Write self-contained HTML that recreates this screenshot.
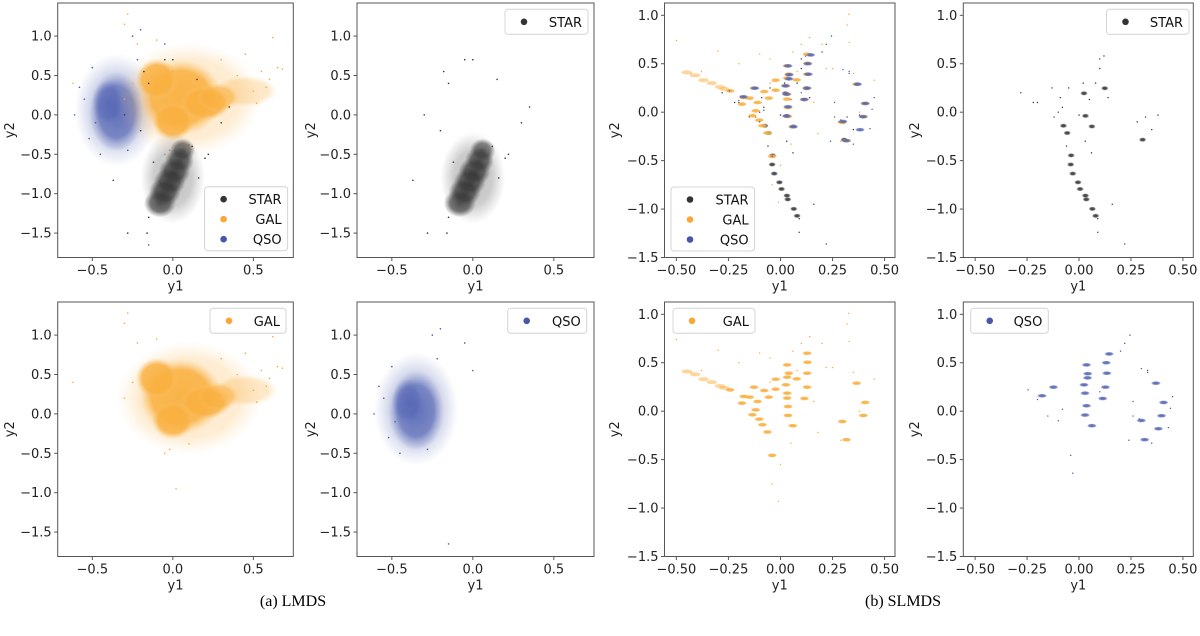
<!DOCTYPE html>
<html><head><meta charset="utf-8">
<style>
html,body{margin:0;padding:0;background:#fff;}
svg{display:block;font-family:"DejaVu Sans","Liberation Sans",sans-serif;}
.cap{font-family:"Liberation Serif",serif;font-size:16px;}
</style></head>
<body>
<svg id="fig" width="1200" height="636" viewBox="0 0 1200 636" xmlns="http://www.w3.org/2000/svg">
<defs>
<radialGradient id="g-gal"><stop offset="0" stop-color="#f9b040" stop-opacity="1"/><stop offset="0.7" stop-color="#f9b040" stop-opacity="0.92"/><stop offset="1" stop-color="#fbc470" stop-opacity="0"/></radialGradient>
<radialGradient id="g-qso"><stop offset="0" stop-color="#4e5eb0" stop-opacity="1"/><stop offset="0.65" stop-color="#5868b5" stop-opacity="0.85"/><stop offset="1" stop-color="#7080c0" stop-opacity="0"/></radialGradient>
<radialGradient id="g-star"><stop offset="0" stop-color="#2e2e2e" stop-opacity="1"/><stop offset="0.6" stop-color="#3a3a3a" stop-opacity="0.85"/><stop offset="1" stop-color="#555" stop-opacity="0"/></radialGradient>
</defs>
<text class="cap" x="293" y="606" text-anchor="middle">(a) LMDS</text>
<text class="cap" x="903" y="606" text-anchor="middle">(b) SLMDS</text>
</svg>
<script>
// ---------- LMDS cloud data (data units: x, y, spreadX, spreadY, density) ----------
const lmdsGalX=[0.1,0.05,-0.1,0.2,0.0,0.45,0.28];
const lmdsGalY=[0.2,0.22,0.45,0.15,-0.08,0.3,0.22];
const lmdsGalSX=[0.45,0.26,0.13,0.16,0.13,0.2,0.13];
const lmdsGalSY=[0.72,0.48,0.26,0.22,0.24,0.2,0.18];
const lmdsGalA=[0.25,0.95,0.9,0.9,0.9,0.3,0.6];
const lmdsQsoX=[-0.35,-0.35,-0.4];
const lmdsQsoY=[0.06,0.04,0.15];
const lmdsQsoSX=[0.26,0.17,0.1];
const lmdsQsoSY=[0.72,0.5,0.3];
const lmdsQsoA=[0.3,0.85,0.6];
const lmdsStarX=[0,-0.08,-0.05,-0.02,0.01,0.04,0.06];
const lmdsStarY=[-0.8,-1.12,-0.98,-0.85,-0.72,-0.58,-0.45];
const lmdsStarSX=[0.2,0.1,0.1,0.1,0.1,0.09,0.08];
const lmdsStarSY=[0.58,0.18,0.18,0.18,0.18,0.17,0.15];
const lmdsStarA=[0.3,0.8,0.85,0.85,0.85,0.8,0.7];
// outlier points
const lmdsGalPtX=[0.55,0.6,0.65,0.62,-0.62,-0.28,0.45,0.5,-0.22,0.3,-0.1,-0.3,0.68,0.4,-0.05,0.02,-0.25,-0.3,0.58,0.52,-0.02,0.1];
const lmdsGalPtY=[0.55,0.45,0.6,0.98,0.4,1.28,0.77,0.3,0.9,0.7,0.95,1.15,0.58,0.5,-0.5,-0.95,0.4,0.2,0.35,0.15,-0.45,-0.38];
const lmdsQsoPtX=[-0.61,-0.55,-0.5,-0.2,-0.25,-0.15,-0.45,-0.05,0.0,-0.52,-0.28,-0.58,-0.22,-0.48];
const lmdsQsoPtY=[0.0,0.2,0.6,1.08,1.0,-1.65,-0.5,0.9,0.55,-0.3,-0.45,0.35,0.7,-0.1];
const lmdsStarPtX=[-0.37,-0.28,-0.16,0.35,-0.05,0.0,0.2,-0.3,0.15,-0.15,0.3,-0.2,-0.18,0.22,-0.15,0.12,-0.12,0.16];
const lmdsStarPtY=[-0.83,-1.5,-1.5,0.1,0.7,0.7,-0.55,0.0,0.45,0.4,-0.1,-0.2,0.55,-0.5,-1.3,-0.4,-0.6,-0.8];
// ---------- SLMDS cluster data ----------
const slGalX=[0.128,0.13,0.128,0.128,0.115,0.032,0.04,0.032,0.078,0.026,0.032,0.032,0.036,0.036,0.059,-0.023,-0.023,-0.056,-0.078,-0.127,-0.11,-0.119,-0.135,-0.102,-0.087,-0.063,-0.176,-0.148,-0.185,-0.242,0.366,0.407,0.398,0.297,0.317,-0.04];
const slGalY=[0.598,0.505,0.392,0.248,0.131,0.478,0.392,0.351,0.334,0.272,0.186,0.135,0.048,-0.044,-0.15,0.33,0.227,0.145,0.213,0.248,0.1,0.014,-0.037,-0.082,-0.14,-0.215,0.152,0.145,0.083,0.22,0.289,0.09,-0.044,-0.106,-0.294,-0.456];
const slGalStreakX=[-0.45,-0.41,-0.37,-0.33,-0.29,-0.27];
const slGalStreakY=[0.41,0.38,0.33,0.3,0.26,0.24];
const slGalPtX=[0.328,0.32,0.33,-0.5,-0.3,-0.1,0.2,0.45,0.25,0.14,0.1,-0.2,-0.05,0.06,0.22,0.29,0.05,0.35,0.38,0.0,-0.04,-0.01,0.16,-0.38,-0.43,0.18,0.08,-0.05];
const slGalPtY=[1.01,0.9,0.72,0.74,0.63,0.6,0.7,0.33,0.45,0.77,0.7,0.5,0.55,0.62,0.45,-0.3,-0.33,0.4,0.0,-0.55,-0.75,-0.93,0.1,0.42,0.4,-0.22,0.42,0.3];
const slQsoX=[0.145,0.131,0.134,0.127,0.114,0.036,0.042,0.041,0.024,0.029,0.036,0.029,0.062,-0.123,-0.178,0.37,0.407,0.397,0.3,0.382,0.316];
const slQsoY=[0.591,0.5,0.392,0.248,0.131,0.478,0.387,0.344,0.272,0.186,0.056,-0.04,-0.15,0.248,0.159,0.289,0.09,-0.047,-0.096,-0.181,-0.294];
const slQsoPtX=[-0.04,-0.03,0.245,-0.245,0.22,0.2,0.3,0.33,0.45,0.44,-0.1,-0.2,0.26,0.43,0.35,0.29,-0.08,-0.15,0.1,0.33,0.24,0.26];
const slQsoPtY=[-0.456,-0.64,0.785,0.22,0.7,0.62,0.44,0.42,0.15,0.03,-0.1,0.12,-0.05,-0.17,-0.33,-0.08,0.02,-0.05,0.2,0.4,-0.3,0.1];
const slStarX=[-0.057,-0.075,-0.038,-0.04,-0.03,-0.005,0.005,0.031,0.035,0.064,0.08,0.062,0.306,0.124,0.024,0.031];
const slStarY=[-0.215,-0.14,-0.446,-0.54,-0.634,-0.724,-0.793,-0.861,-0.9,-0.998,-1.07,-0.147,-0.284,0.247,0.195,-0.038];
const slStarPtX=[-0.28,-0.22,-0.2,-0.13,-0.09,-0.1,-0.05,0.02,0.05,0.1,0.12,0.14,0.09,0.16,0.22,0.1,0.28,0.32,0.38,0.35,-0.08,0.0,0.06,0.09,-0.12,-0.06,0.03,0.08];
const slStarPtY=[0.2,0.1,0.1,0.25,0.15,0.0,0.25,0.3,0.13,0.45,0.58,0.15,-1.24,-0.95,-1.36,0.55,-0.1,-0.05,-0.03,-0.18,0.05,-0.03,-0.42,-1.1,-0.05,-0.35,-0.3,0.3];
// ---------- tick labels ----------
const lmdsXTicks=[-0.5,0,0.5];
const lmdsXTickLabels=["\u22120.5","0.0","0.5"];
const yTicks=[1,0.5,0,-0.5,-1,-1.5];
const yTickLabels=["1.0","0.5","0.0","\u22120.5","\u22121.0","\u22121.5"];
const slXTicks=[-0.5,-0.25,0,0.25,0.5];
const slXTickLabels=["\u22120.50","\u22120.25","0.00","0.25","0.50"];

const NS="http://www.w3.org/2000/svg";
const svg=document.getElementById('fig');
const COL={gal:'#f9a836',qso:'#4656a8',star:'#333333'};
const LBL={gal:'GAL',qso:'QSO',star:'STAR'};
function mk(tag,attrs,parent){const e=document.createElementNS(NS,tag);for(const k in attrs)e.setAttribute(k,attrs[k]);(parent||svg).appendChild(e);return e;}

const LM={xr:[-0.715,0.748],yr:[-1.81,1.42]};
const SL={xr:[-0.557,0.55],yr:[-1.5,1.127]};
const panels=[
 {name:'lmds-all',l:57.7,t:3,w:235.6,h:254.5,r:LM,kind:'lm',cls:['qso','gal','star'],leg:[204.6,186.7,83,64],ylab:10},
 {name:'lmds-star',l:357,t:3,w:237,h:254.5,r:LM,kind:'lm',cls:['star'],leg:[505,9.3,83,25],ylab:311},
 {name:'slmds-all',l:664.5,t:3,w:230.5,h:254.5,r:SL,kind:'sl',cls:['star','gal','qso'],leg:[671,187,83.6,64],ylab:615},
 {name:'slmds-star',l:963.3,t:3,w:230,h:254.5,r:SL,kind:'sl',cls:['star'],leg:[1106.5,9.3,82.5,25],ylab:915},
 {name:'lmds-gal',l:57.7,t:302,w:235.6,h:254.5,r:LM,kind:'lm',cls:['gal'],leg:[210,308.3,76,25],ylab:10},
 {name:'lmds-qso',l:357,t:302,w:237,h:254.5,r:LM,kind:'lm',cls:['qso'],leg:[507.7,308.3,79,25],ylab:311},
 {name:'slmds-gal',l:664.5,t:302,w:230.5,h:254.5,r:SL,kind:'sl',cls:['gal'],leg:[673,308.3,82,25],ylab:615},
 {name:'slmds-qso',l:963.3,t:302,w:230,h:254.5,r:SL,kind:'sl',cls:['qso'],leg:[970.7,308.3,77.6,25],ylab:915}
];

function lmData(c){
 if(c==='gal')return{bx:lmdsGalX,by:lmdsGalY,sx:lmdsGalSX,sy:lmdsGalSY,a:lmdsGalA,px:lmdsGalPtX,py:lmdsGalPtY};
 if(c==='qso')return{bx:lmdsQsoX,by:lmdsQsoY,sx:lmdsQsoSX,sy:lmdsQsoSY,a:lmdsQsoA,px:lmdsQsoPtX,py:lmdsQsoPtY};
 return{bx:lmdsStarX,by:lmdsStarY,sx:lmdsStarSX,sy:lmdsStarSY,a:lmdsStarA,px:lmdsStarPtX,py:lmdsStarPtY};
}

panels.forEach(p=>{
 const g=mk('g',{});
 
 
 const xs=v=>p.l+(v-p.r.xr[0])/(p.r.xr[1]-p.r.xr[0])*p.w;
 const ys=v=>p.t+(p.r.yr[1]-v)/(p.r.yr[1]-p.r.yr[0])*p.h;
 const sX=p.w/(p.r.xr[1]-p.r.xr[0]), sY=p.h/(p.r.yr[1]-p.r.yr[0]);
 mk('clipPath',{id:'clip-'+p.name},g);
 mk('rect',{x:p.l,y:p.t,width:p.w,height:p.h},g.lastChild);
 const plot=mk('g',{'clip-path':'url(#clip-'+p.name+')'},g);
 
 
 p.cls.forEach(c=>{
  if(p.kind==='lm'){
   const d=lmData(c);
   d.bx.forEach((x,i)=>{
    const e=mk('ellipse',{cx:xs(x),cy:ys(d.by[i]),rx:d.sx[i]*sX,ry:d.sy[i]*sY,fill:'url(#g-'+c+')','fill-opacity':d.a[i]},plot);
    
    
   });
   d.px.forEach((x,i)=>{
    const e=mk('circle',{cx:xs(x),cy:ys(d.py[i]),r:0.8,fill:COL[c]},plot);
    
    
   });
  } else {
   let cx,cy,px,py;
   if(c==='gal'){cx=slGalX;cy=slGalY;px=slGalPtX;py=slGalPtY;}
   else if(c==='qso'){cx=slQsoX;cy=slQsoY;px=slQsoPtX;py=slQsoPtY;}
   else {cx=slStarX;cy=slStarY;px=slStarPtX;py=slStarPtY;}
   if(c==='gal'){
    slGalStreakX.forEach((x,i)=>{
     const e=mk('ellipse',{cx:xs(x),cy:ys(slGalStreakY[i]),rx:0.03*sX,ry:0.025*sY,fill:'url(#g-gal)','fill-opacity':0.55},plot);
     
     
    });
   }
   const rx=(c==='star'?0.018:0.024), ry=(c==='star'?0.024:0.022);
   cx.forEach((x,i)=>{
    const e=mk('ellipse',{cx:xs(x),cy:ys(cy[i]),rx:rx*sX,ry:ry*sY,fill:'url(#g-'+c+')','fill-opacity':0.95},plot);
    
    
   });
   px.forEach((x,i)=>{
    const e=mk('circle',{cx:xs(x),cy:ys(py[i]),r:0.7,fill:COL[c]},plot);
    
    
   });
  }
 });
 const fr=mk('rect',{x:p.l,y:p.t,width:p.w,height:p.h,fill:'none',stroke:'#555','stroke-width':1},g);
 
 
 const xt=p.kind==='lm'?lmdsXTicks:slXTicks, xl=p.kind==='lm'?lmdsXTickLabels:slXTickLabels;
 xt.forEach((v,i)=>{
  const x=xs(v), yb=p.t+p.h;
  mk('line',{x1:x,x2:x,y1:yb,y2:yb+3.5,stroke:'#555'},g);
  const t=mk('text',{x:x,y:yb+17,'text-anchor':'middle','font-size':13,fill:'#222'},g);
  t.textContent=xl[i];
  
  
 });
 yTicks.forEach((v,i)=>{
  const y=ys(v); if(y<p.t-1||y>p.t+p.h+1)return;
  mk('line',{x1:p.l-3.5,x2:p.l,y1:y,y2:y,stroke:'#555'},g);
  const t=mk('text',{x:p.l-6,y:y+4.5,'text-anchor':'end','font-size':13,fill:'#222'},g);
  t.textContent=yTickLabels[i];
  
  
 });
 const xlab=mk('text',{x:p.l+p.w/2,y:p.t+p.h+33,'text-anchor':'middle','font-size':13,fill:'#222'},g);
 xlab.textContent='y1';
 
 
 const cyy=p.t+p.h/2;
 const ylab=mk('text',{x:p.ylab,y:cyy,'text-anchor':'middle','font-size':13,fill:'#222',transform:'rotate(-90 '+p.ylab+' '+cyy+')',dy:'4'},g);
 ylab.textContent='y2';
 
 
 const [lx,ly,lw,lh]=p.leg;
 const lg=mk('g',{},g);
 
 
 mk('rect',{x:lx,y:ly,width:lw,height:lh,rx:3,fill:'#fff','fill-opacity':0.85,stroke:'#d4d4d4'},lg);
 const ent=(p.cls.length===3)?['star','gal','qso']:p.cls;
 ent.forEach((c,i)=>{
  const yy=ly+12.5+i*20;
  const e=mk('g',{},lg);
  
  
  mk('circle',{cx:lx+19,cy:yy,r:3.3,fill:COL[c]},e);
  const t=mk('text',{x:lx+lw-6,y:yy+5,'text-anchor':'end','font-size':13,fill:'#111'},e);
  t.textContent=LBL[c];
 });
});
</script>
</body></html>
